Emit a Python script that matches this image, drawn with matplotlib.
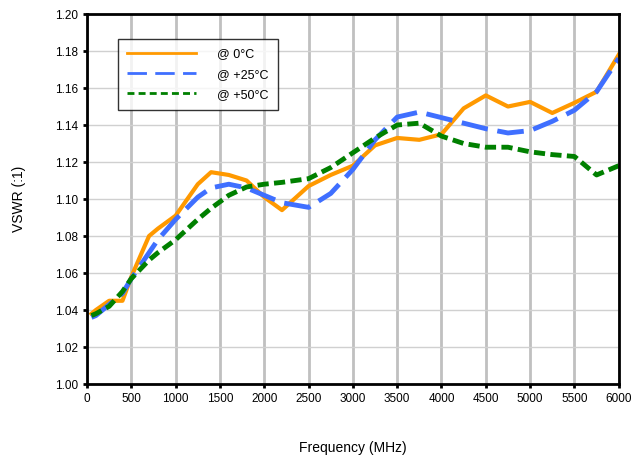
import matplotlib
matplotlib.use("Agg")
import matplotlib.pyplot as plt

plt.rcParams["font.family"] = ["Liberation Sans", "DejaVu Sans"]

freq_mhz = [50, 100, 250, 400, 500, 700, 800, 1000, 1250, 1400, 1600, 1800, 2000,
            2200, 2500, 2750, 3000, 3250, 3500, 3750, 4000, 4250, 4500, 4750,
            5000, 5250, 5500, 5750, 6000]

vswr_0c = [1.038, 1.040, 1.045, 1.045, 1.058, 1.080, 1.084, 1.091, 1.108, 1.1145,
           1.113, 1.110, 1.101, 1.094, 1.107, 1.113, 1.118, 1.129, 1.133, 1.132,
           1.135, 1.149, 1.156, 1.150, 1.1525, 1.1465, 1.152, 1.158, 1.178]

vswr_25c = [1.036, 1.037, 1.043, 1.049, 1.057, 1.071, 1.078, 1.089, 1.101, 1.106,
            1.108, 1.106, 1.102, 1.098, 1.0955, 1.103, 1.116, 1.132, 1.1443, 1.147,
            1.144, 1.141, 1.138, 1.1357, 1.137, 1.142, 1.148, 1.158, 1.176]

vswr_50c = [1.037, 1.038, 1.042, 1.050, 1.057, 1.067, 1.071, 1.078, 1.089, 1.095,
            1.102, 1.1065, 1.108, 1.109, 1.111, 1.117, 1.125, 1.133, 1.140, 1.141,
            1.134, 1.130, 1.128, 1.128, 1.1255, 1.124, 1.123, 1.113, 1.118]

fig = plt.figure(figsize=(6.32, 4.61), dpi=100)
ax = fig.add_axes([0.1377, 0.167, 0.8413, 0.8026])

ax.plot(freq_mhz, vswr_0c, color="#FF9900", lw=3, label="@ 0°C")
ax.plot(freq_mhz, vswr_25c, color="#3F6FFF", lw=3.5, dashes=(5.5, 2), label="@ +25°C")
ax.plot(freq_mhz, vswr_50c, color="#008000", lw=3.5, dashes=(2.3, 1.1), label="@ +50°C")

ax.set_xlim(0, 6000)
ax.set_ylim(1.00, 1.20)
ax.set_xticks(range(0, 6001, 500))
ax.set_yticks([1.00 + 0.02 * i for i in range(11)])
ax.set_yticklabels([f"{1.00 + 0.02 * i:.2f}" for i in range(11)])

ax.grid(axis="x", color="#C0C0C0", lw=2)
ax.grid(axis="y", color="#D0D0D0", lw=1)
ax.set_axisbelow(True)
for s in ax.spines.values():
    s.set_linewidth(2)
    s.set_color("black")

ax.tick_params(axis="both", labelsize=8.5, direction="out", length=3, width=2)

ax.set_ylabel("VSWR (:1)", fontsize=10, labelpad=21)
ax.set_xlabel("Frequency (MHz)", fontsize=10, labelpad=26)

leg = ax.legend(loc="upper left", bbox_to_anchor=(0.058, 0.932), borderaxespad=0,
                fontsize=9, fancybox=False, frameon=True, handlelength=5.5,
                borderpad=0.75, labelspacing=0.65, handletextpad=1.7)
leg.get_frame().set_edgecolor("black")
leg.get_frame().set_linewidth(1)
# thinner lines in the legend, like the original
leg_lines = leg.get_lines()
leg_lines[0].set_linewidth(2)
leg_lines[1].set_linewidth(2)
leg_lines[1].set_dashes((7, 3))
leg_lines[2].set_linewidth(2)
leg_lines[2].set_dashes((2.5, 1.5))

fig.savefig("out.png", dpi=100)
